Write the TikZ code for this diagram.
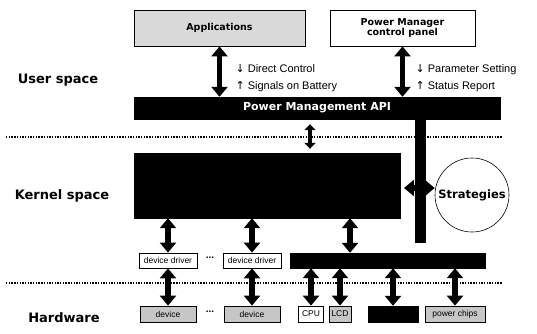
\documentclass[tikz,border=0pt]{standalone}
\usepackage{fontspec}
\setmainfont{Liberation Sans}
\newfontfamily\dvs{DejaVu Sans}
\usetikzlibrary{arrows.meta}
\begin{document}
\begin{tikzpicture}[x=1pt,y=-1pt,
  box/.style={draw, line width=0.8pt, inner sep=0pt},
  blk/.style={fill=black, draw=black, inner sep=0pt},
  dbl/.style={line width=5.5pt, {Triangle[width=16pt,length=10pt]}-{Triangle[width=16pt,length=10pt]}},
  dbls/.style={line width=4pt, {Triangle[width=11pt,length=6pt]}-{Triangle[width=11pt,length=6pt]}},
  region/.style={font=\dvs\bfseries\fontsize{13}{15}\selectfont},
  ann/.style={anchor=west, align=left, font=\fontsize{11}{17}\selectfont},
  small/.style={font=\fontsize{8.5}{10}\selectfont},
  dotsty/.style={font=\bfseries\fontsize{10}{10}\selectfont},
  dotline/.style={line width=1.4pt, dash pattern=on 1.4pt off 1.3pt}]
\useasboundingbox (0,0) rectangle (537,333);

% region labels
\node[region] (us) at (58,80) {User space};
\node[region] (ks) at (62,196) {Kernel space};
\node[region] (hw) at (64,318) {Hardware};

% dotted separators
\coordinate (d1a) at (6,137); \coordinate (d1b) at (502,137);
\coordinate (d2a) at (6,283); \coordinate (d2b) at (502,283);
\draw[dotline] (d1a) -- (d1b);
\draw[dotline] (d2a) -- (d2b);

% top boxes
\node[box, fill=gray!30, minimum width=171pt, minimum height=36pt,
      font=\dvs\bfseries\fontsize{9.5}{11}\selectfont] (app) at (219.5,28) {Applications};
\node[box, fill=white, minimum width=145pt, minimum height=36pt, align=center,
      font=\dvs\bfseries\fontsize{9.5}{10}\selectfont] (pm) at (402.5,28) {Power Manager\\control panel};

% API bar
\node[blk, minimum width=366pt, minimum height=22pt, text=white,
      font=\dvs\bfseries\fontsize{11}{12}\selectfont] (api) at (317,108) {Power Management API};

% annotations
\node[ann] (a1) at (232,78) {{\dvs↓} Direct Control\\{\dvs↑} Signals on Battery};
\node[ann] (a2) at (412,78) {{\dvs↓} Parameter Setting\\{\dvs↑} Status Report};

% kernel box and vertical bar
\node[blk, minimum width=266pt, minimum height=65pt] (kern) at (267,185.5) {};
\node[blk, minimum width=10pt, minimum height=123pt] (vbar) at (420,180.5) {};

% strategies
\node[draw, circle, line width=0.6pt, minimum size=74pt, inner sep=0pt,
      font=\dvs\bfseries\fontsize{11.5}{13}\selectfont] (strat) at (472,195) {Strategies};

% driver row
\node[box, small, fill=white, minimum width=58pt, minimum height=15pt] (drv1) at (168,260.5) {device driver};
\node[box, small, fill=white, minimum width=58pt, minimum height=15pt] (drv2) at (252,260.5) {device driver};
\node[dotsty] (dots1) at (210,258) {...};
\node[blk, minimum width=195pt, minimum height=15pt] (hbar) at (387.5,260.5) {};

% hardware row
\node[box, small, fill=gray!45, minimum width=56pt, minimum height=16pt] (dev1) at (168,314) {device};
\node[dotsty] (dots2) at (210,312) {...};
\node[box, small, fill=gray!45, minimum width=56pt, minimum height=16pt] (dev2) at (252,314) {device};
\node[box, small, fill=white, minimum width=25pt, minimum height=16pt] (cpu) at (311,314) {CPU};
\node[box, small, fill=gray!45, minimum width=22pt, minimum height=16pt] (lcd) at (340,314) {LCD};
\node[blk, minimum width=50pt, minimum height=16pt] (hwb) at (393,314) {};
\node[box, small, fill=gray!45, minimum width=60pt, minimum height=16pt] (pwr) at (455,314) {power chips};

% arrows user space
\draw[dbl] (app.south) -- (app.south |- api.north);
\draw[dbl] (pm.south) -- (pm.south |- api.north);
% api - kernel
\draw[dbls, shorten <=5pt, shorten >=4pt] ([xshift=-7pt]api.south) -- ([xshift=-7pt]api.south |- kern.north);
% strategies arrow
\coordinate (sa) at (404,188);
\draw[dbl] (sa) -- (sa -| strat.west);
% kernel - drivers
\draw[dbl] (kern.south -| drv1) -- (drv1.north);
\draw[dbl] (kern.south -| drv2) -- (drv2.north);
\draw[dbl] ([xshift=83pt]kern.south) -- ([xshift=83pt]kern.south |- hbar.north);
% drivers - hardware
\draw[dbl] (drv1.south) -- (dev1.north);
\draw[dbl] (drv2.south) -- (dev2.north);
\draw[dbl] (hbar.south -| cpu) -- (cpu.north);
\draw[dbl] (hbar.south -| lcd) -- (lcd.north);
\draw[dbl] (hbar.south -| hwb) -- (hwb.north);
\draw[dbl] (hbar.south -| pwr) -- (pwr.north);
\end{tikzpicture}
\end{document}
